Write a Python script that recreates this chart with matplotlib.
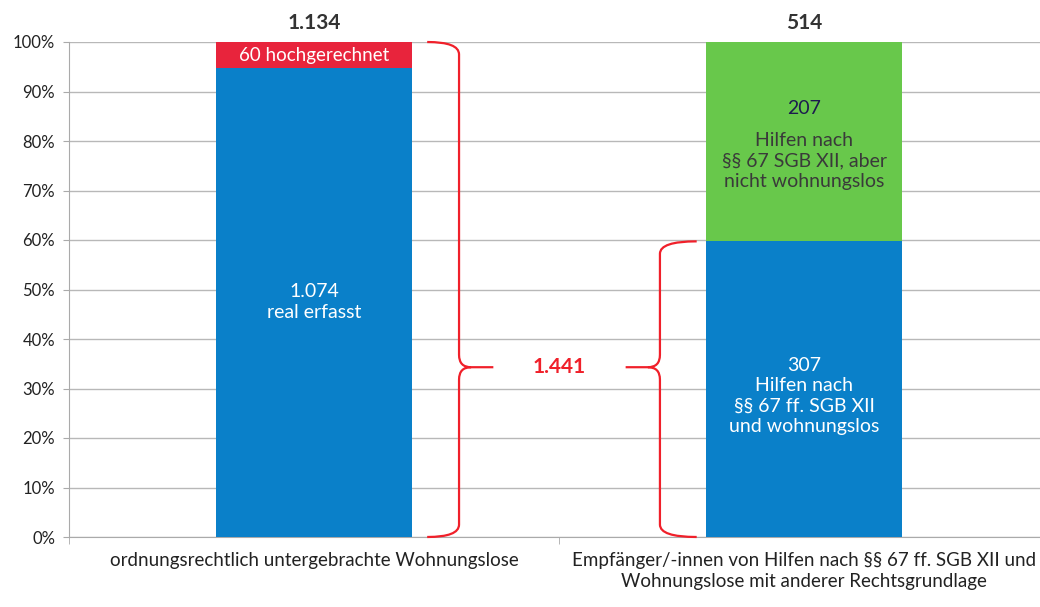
import matplotlib
matplotlib.use("Agg")
import matplotlib.pyplot as plt
from matplotlib.path import Path
from matplotlib.patches import PathPatch

plt.rcParams['font.family'] = ['Lato', 'DejaVu Sans']

# data
categories = ["ordnungsrechtlich untergebrachte Wohnungslose",
              "Empfänger/-innen von Hilfen nach §§ 67 ff. SGB XII und\nWohnungslose mit anderer Rechtsgrundlage"]
lower_counts = [1074, 307]
upper_counts = [60, 207]
totals = ["1.134", "514"]
lower_texts = ["1.074\nreal erfasst", "307\nHilfen nach\n§§ 67 ff. SGB XII\nund wohnungslos"]
upper_texts = ["60 hochgerechnet", "Hilfen nach\n§§ 67 SGB XII, aber\nnicht wohnungslos"]
upper_num2 = "207"
sum_label = "1.441"
yticks = list(range(0, 101, 10))

BLUE = "#0a80c9"
RED = "#e8243c"
GREEN = "#68c84b"
BRACE = "#f0202a"

lower = [100 * l / (l + u) for l, u in zip(lower_counts, upper_counts)]
upper = [100 * u / (l + u) for l, u in zip(lower_counts, upper_counts)]

fig = plt.figure(figsize=(10.4, 6.07), dpi=100)
ax = fig.add_axes([69 / 1040, 70 / 607, 980 / 1040, 495 / 607])
ax.set_xlim(-0.5, 1.5)
ax.set_ylim(0, 100)

x = [0, 1]
ax.bar(x, lower, width=0.4, color=BLUE, zorder=3)
ax.bar(x, upper, width=0.4, bottom=lower, color=[RED, GREEN], zorder=3)

# texts inside bars
ax.text(0, 47.5, lower_texts[0], ha="center", va="center", color="white",
        fontsize=14, linespacing=1.3, zorder=4)
ax.text(0, lower[0] + upper[0] / 2, upper_texts[0], ha="center", va="center",
        color="white", fontsize=13.5, zorder=4)
ax.text(1, 28.5, lower_texts[1], ha="center", va="center", color="white",
        fontsize=14, linespacing=1.25, zorder=4)
ax.text(1, 86.5, upper_num2, ha="center", va="center", color="#1c1c4e", fontsize=14, zorder=4)
ax.text(1, 76, upper_texts[1], ha="center", va="center", color="#3a3a3a",
        fontsize=14, linespacing=1.25, zorder=4)

# totals on top
for xi, t in zip(x, totals):
    ax.text(xi, 103.8, t, ha="center", va="center", fontsize=15, fontweight="bold",
            color="#333333", clip_on=False)


def brace(ax, xv, y0, y1, ymid, hook, tip):
    r = 2.5
    d = tip * 0.35
    verts = [(xv + hook, y1), (xv, y1), (xv, y1 - r),
             (xv, ymid + r),
             (xv, ymid), (xv + d, ymid),
             (xv + tip, ymid),
             (xv + d, ymid), (xv, ymid), (xv, ymid - r),
             (xv, y0 + r),
             (xv, y0), (xv + hook, y0)]
    codes = [Path.MOVETO, Path.CURVE3, Path.CURVE3,
             Path.LINETO,
             Path.CURVE3, Path.CURVE3,
             Path.LINETO,
             Path.MOVETO, Path.CURVE3, Path.CURVE3,
             Path.LINETO,
             Path.CURVE3, Path.CURVE3]
    ax.add_patch(PathPatch(Path(verts, codes), fill=False, edgecolor=BRACE,
                           lw=1.6, zorder=5, clip_on=False))


ymid = 34.3
brace(ax, 0.296, 0, lower[0] + upper[0], ymid, -0.065, 0.07)
brace(ax, 0.706, 0, lower[1], ymid, 0.075, -0.07)
ax.text(0.5, ymid, sum_label, ha="center", va="center", fontsize=15,
        fontweight="bold", color=BRACE)

# axes styling
ax.set_yticks(yticks)
ax.set_yticklabels([f"{v}%" for v in yticks], fontsize=12, color="#222222")
ax.yaxis.grid(True, color="#b8b8b8", lw=1, zorder=0)
ax.tick_params(axis="y", length=4, color="#aaaaaa", pad=6)
ax.set_xticks(x)
ax.set_xticklabels(categories, fontsize=13.5, color="#222222", linespacing=1.3)
ax.tick_params(axis="x", length=0, pad=11)
ax.set_xticks([-0.5, 0.5, 1.5], minor=True)
ax.tick_params(axis="x", which="minor", length=5, color="#aaaaaa")
for s in ["top", "right"]:
    ax.spines[s].set_visible(False)
ax.spines["left"].set_color("#aaaaaa")
ax.spines["bottom"].set_color("#aaaaaa")

fig.savefig("out.png", dpi=100)
